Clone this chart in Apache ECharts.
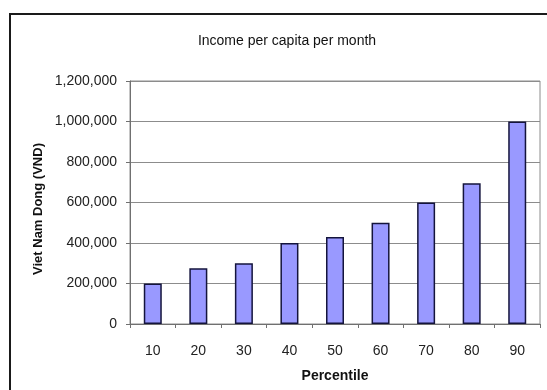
<!DOCTYPE html>
<html>
<head>
<meta charset="utf-8">
<script src="https://cdn.jsdelivr.net/npm/echarts@6/dist/echarts.min.js"></script>
<style>
  html, body { margin: 0; padding: 0; background: #ffffff; }
  #chart { width: 547px; height: 390px; }
</style>
</head>
<body>
<div id="chart"></div>
<script>
// Monthly income per capita by percentile (VND)
const percentiles = ['10', '20', '30', '40', '50', '60', '70', '80', '90'];
const incomeVND = [200000, 275000, 300000, 400000, 430000, 500000, 600000, 695000, 1000000];
const yTicks = { min: 0, max: 1200000, interval: 200000 };
const chartTitle = 'Income per capita per month';
const yAxisTitle = 'Viet Nam Dong (VND)';
const xAxisTitle = 'Percentile';

const chart = echarts.init(document.getElementById('chart'), null, { renderer: 'canvas' });

const fontFamily = 'Liberation Sans, Arial, sans-serif';

chart.setOption({
  backgroundColor: '#ffffff',
  animation: false,
  graphic: [
    {
      // chart-area frame, running off the right and bottom edges
      type: 'rect',
      shape: { x: 10, y: 14, width: 560, height: 400 },
      style: { fill: 'none', stroke: '#1a1a1a', lineWidth: 2 },
      z: 100
    },
    {
      type: 'text',
      x: 287,
      y: 41,
      style: {
        text: chartTitle,
        fontFamily, fontSize: 14, fill: '#111',
        textAlign: 'center', textVerticalAlign: 'middle'
      },
      z: 100
    },
    {
      type: 'text',
      x: 38,
      y: 209,
      rotation: Math.PI / 2,
      style: {
        text: yAxisTitle,
        fontFamily, fontSize: 13, fontWeight: 'bold', fill: '#111',
        textAlign: 'center', textVerticalAlign: 'middle'
      },
      z: 100
    }
  ],
  grid: {
    left: 130,
    right: 7,
    top: 81,
    bottom: 66,
    show: true,
    borderColor: '#8c8c8c',
    borderWidth: 1,
    backgroundColor: '#ffffff'
  },
  xAxis: {
    type: 'category',
    data: percentiles,
    name: xAxisTitle,
    nameLocation: 'middle',
    nameGap: 45,
    nameTextStyle: { fontFamily, fontSize: 14, fontWeight: 'bold', color: '#111' },
    axisLine: { lineStyle: { color: '#707070', width: 1 } },
    axisTick: { show: true, length: 4, lineStyle: { color: '#707070' } },
    axisLabel: { fontFamily, fontSize: 14, color: '#222', margin: 20 },
    splitLine: { show: false }
  },
  yAxis: {
    type: 'value',
    min: yTicks.min,
    max: yTicks.max,
    interval: yTicks.interval,
    axisLine: { show: true, lineStyle: { color: '#707070', width: 1 } },
    axisTick: { show: true, length: 4, lineStyle: { color: '#707070' } },
    axisLabel: {
      fontFamily, fontSize: 14, color: '#222', margin: 13,
      formatter: v => v.toLocaleString('en-US')
    },
    splitLine: { show: true, lineStyle: { color: '#8c8c8c', width: 1 } }
  },
  series: [
    {
      type: 'bar',
      data: incomeVND,
      barWidth: 18,
      itemStyle: {
        color: '#9999ff',
        borderColor: '#14143c',
        borderWidth: 1.5
      }
    }
  ]
});
</script>
</body>
</html>
